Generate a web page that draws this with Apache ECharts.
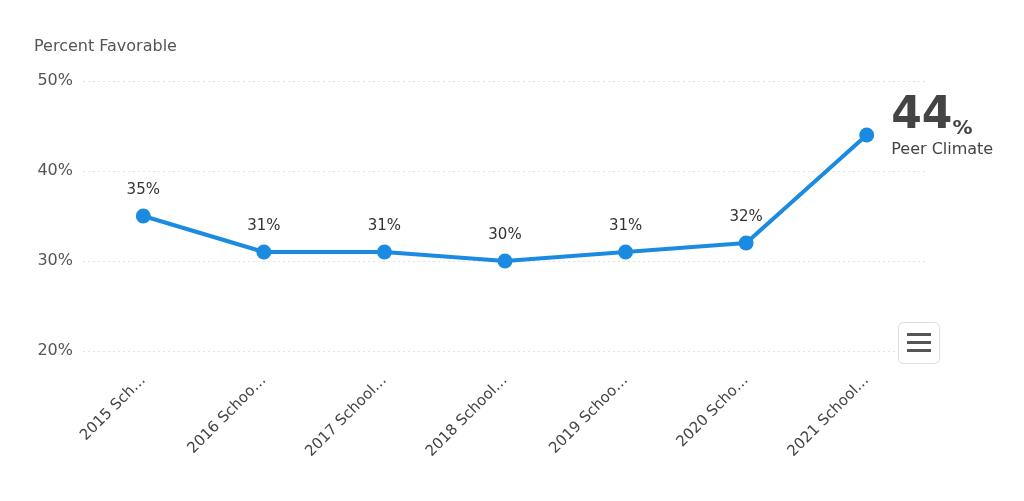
<!DOCTYPE html>
<html>
<head>
<meta charset="utf-8">
<script src="https://cdn.jsdelivr.net/npm/echarts@6/dist/echarts.min.js"></script>
<style>html,body{margin:0;padding:0;background:#fff;}#c{width:1024px;height:501px;}</style>
</head>
<body>
<div id="c"></div>
<script>
const categories = ["2015 Sch\u2026", "2016 Schoo\u2026", "2017 School\u2026", "2018 School\u2026", "2019 Schoo\u2026", "2020 Scho\u2026", "2021 School\u2026"];
const values = [35, 31, 31, 30, 31, 32, 44];
const yTicks = [20, 30, 40, 50];
const seriesName = "Peer Climate";
const axisTitle = "Percent Favorable";

const FONT = "DejaVu Sans, sans-serif";
const chart = echarts.init(document.getElementById('c'));
const last = values.length - 1;
chart.setOption({
  animation: false,
  backgroundColor: '#fff',
  grid: { left: 83, right: 97, top: 81, bottom: 150 },
  xAxis: {
    type: 'category',
    data: categories,
    boundaryGap: true,
    axisLine: { show: false },
    axisTick: { show: false },
    axisLabel: { rotate: 45, margin: 27, color: '#444', fontSize: 15, fontFamily: FONT }
  },
  yAxis: {
    type: 'value',
    min: yTicks[0], max: yTicks[yTicks.length - 1], interval: 10,
    axisLine: { show: false },
    axisTick: { show: false },
    axisLabel: { formatter: '{value}%', color: '#555', fontSize: 16, fontFamily: FONT, margin: 10 },
    splitLine: { lineStyle: { color: '#e2e2e2', type: [2, 3], width: 1 } }
  },
  graphic: [
    { type: 'text', left: 34, top: 39, style: { text: axisTitle, fill: '#555', font: '16px ' + FONT } },
    { type: 'rect', left: 898, top: 322, z: 100, shape: { width: 41, height: 41, r: 5 }, style: { fill: '#fff', stroke: '#ddd', lineWidth: 1 } },
    { type: 'rect', left: 907, top: 333, z: 101, shape: { width: 24, height: 3 }, style: { fill: '#555' } },
    { type: 'rect', left: 907, top: 341, z: 101, shape: { width: 24, height: 3 }, style: { fill: '#555' } },
    { type: 'rect', left: 907, top: 349, z: 101, shape: { width: 24, height: 3 }, style: { fill: '#555' } }
  ],
  series: [{
    name: seriesName,
    type: 'line',
    data: values.map((v, i) => i === last ? {
      value: v,
      label: {
        show: true, position: 'right', distance: 17, offset: [0, -7],
        formatter: () => '{big|' + v + '}{pct|%}\n{name|' + seriesName + '}',
        rich: {
          big: { fontSize: 44, fontWeight: 'bold', color: '#444', fontFamily: FONT, lineHeight: 44, verticalAlign: 'bottom' },
          pct: { fontSize: 20, fontWeight: 'bold', color: '#444', fontFamily: FONT, verticalAlign: 'bottom', lineHeight: 34 },
          name: { fontSize: 16, color: '#444', fontFamily: FONT, lineHeight: 22 }
        }
      }
    } : v),
    lineStyle: { color: '#1a8be0', width: 4 },
    itemStyle: { color: '#1a8be0' },
    symbol: 'circle',
    symbolSize: 15,
    label: { show: true, position: 'top', distance: 11, formatter: '{c}%', color: '#333', fontSize: 15, fontFamily: FONT }
  }]
});
</script>
</body>
</html>
